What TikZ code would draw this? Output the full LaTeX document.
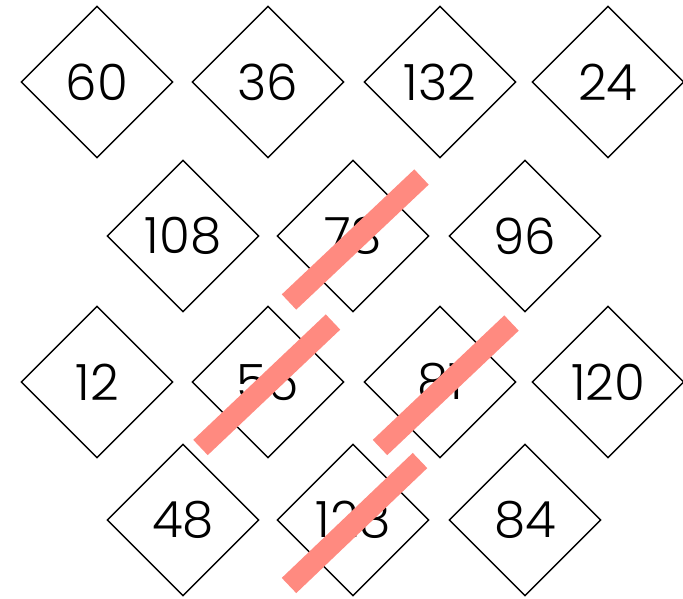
\documentclass[tikz,border=0pt]{standalone}
\usepackage{fontspec}
\setmainfont{Poppins Light}
\usetikzlibrary{shapes.geometric}
\definecolor{barred}{HTML}{FF8A80}
\tikzset{
  card/.style={diamond, draw=black, line width=1.4pt, minimum width=152pt, minimum height=152pt, inner sep=0pt, font=\fontsize{50}{50}\selectfont},
  strike/.style={draw=barred, line width=21pt}
}
\begin{document}
\begin{tikzpicture}[x=1pt,y=-1pt]
\useasboundingbox (0,0) rectangle (683,598);
% row 1
\node[card] (a1) at (97,82) {60};
\node[card] (a2) at (268,82) {36};
\node[card] (a3) at (440,82) {132};
\node[card] (a4) at (608,82) {24};
% row 2
\node[card] (b1) at (183,236) {108};
\node[card] (b2) at (353,236) {78};
\node[card] (b3) at (525,236) {96};
% row 3
\node[card] (c1) at (97,382) {12};
\node[card] (c2) at (268,382) {56};
\node[card] (c3) at (440,382) {81};
\node[card] (c4) at (608,382) {120};
% row 4
\node[card] (d1) at (183,520) {48};
\node[card] (d2) at (353,520) {128};
\node[card] (d3) at (525,520) {84};
% strike bars
\coordinate (s1a) at (289,302); \coordinate (s1b) at (421.5,177);
\coordinate (s2a) at (200.5,447.5); \coordinate (s2b) at (333,322);
\coordinate (s3a) at (380,447.5); \coordinate (s3b) at (511.5,323);
\coordinate (s4a) at (289,585.5); \coordinate (s4b) at (420,460.5);
\draw[strike] (s1a) -- (s1b);
\draw[strike] (s2a) -- (s2b);
\draw[strike] (s3a) -- (s3b);
\draw[strike] (s4a) -- (s4b);
\end{tikzpicture}
\end{document}
